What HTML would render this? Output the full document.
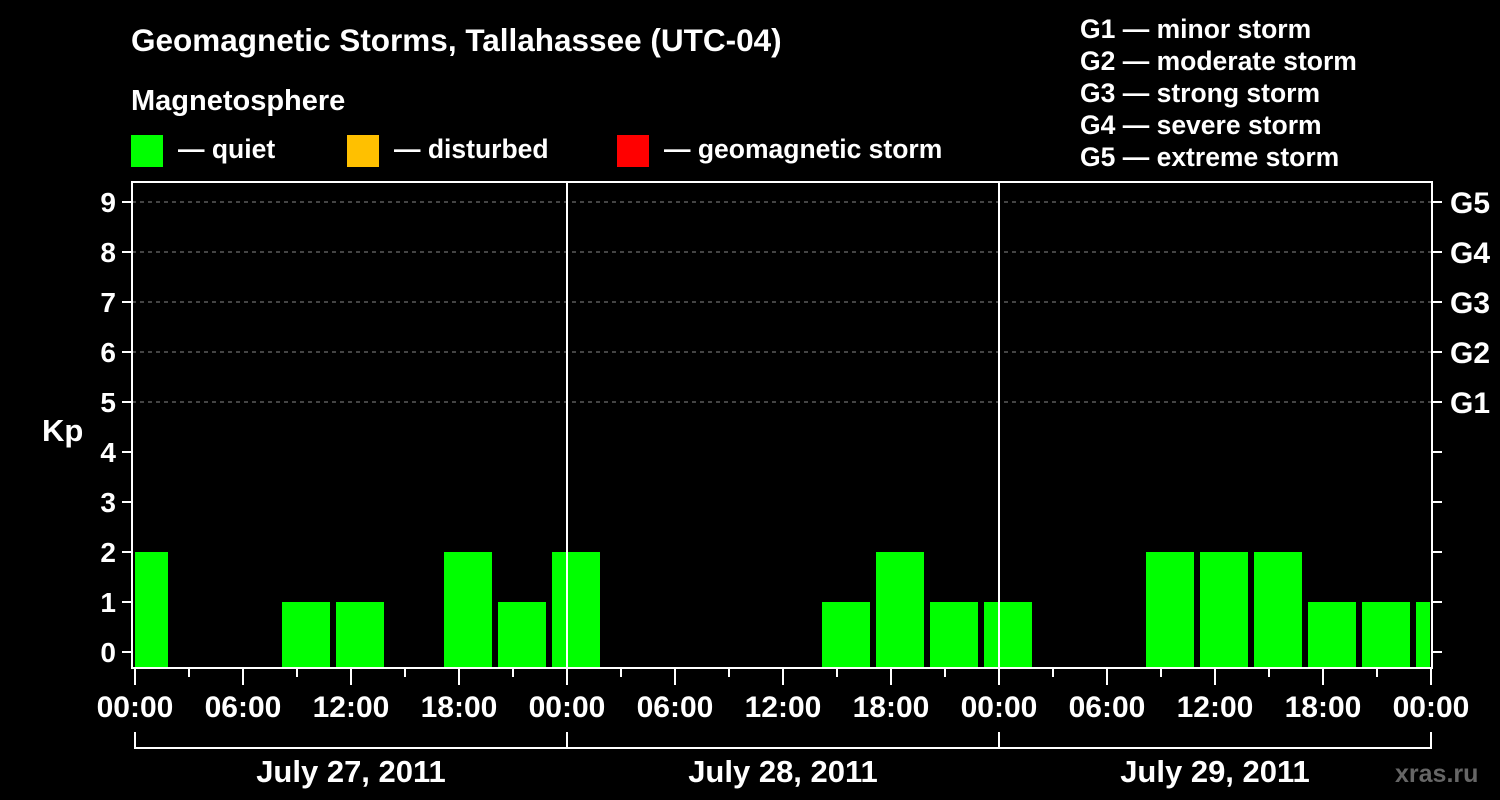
<!DOCTYPE html>
<html><head><meta charset="utf-8"><style>
html,body{margin:0;padding:0;background:#000;}
svg{display:block;font-family:"Liberation Sans",sans-serif;font-weight:bold;}
</style></head><body>
<svg id="chart" width="1500" height="800" viewBox="0 0 1500 800">
<rect width="1500" height="800" fill="#000"/>
<text x="131" y="51" fill="#fff" font-size="31.5">Geomagnetic Storms, Tallahassee (UTC-04)</text>
<text x="131" y="110" fill="#fff" font-size="29">Magnetosphere</text>
<g><rect x="131" y="135" width="32" height="32" fill="#00ff00"/><text x="178" y="158" fill="#fff" font-size="26.5">— quiet</text></g>
<g><rect x="347" y="135" width="32" height="32" fill="#ffc000"/><text x="394" y="158" fill="#fff" font-size="26.5">— disturbed</text></g>
<g><rect x="617" y="135" width="32" height="32" fill="#ff0000"/><text x="664" y="158" fill="#fff" font-size="26.5">— geomagnetic storm</text></g>
<g fill="#fff" font-size="26.5">
<text x="1080" y="38">G1 — minor storm</text>
<text x="1080" y="70">G2 — moderate storm</text>
<text x="1080" y="102">G3 — strong storm</text>
<text x="1080" y="134">G4 — severe storm</text>
<text x="1080" y="166">G5 — extreme storm</text>
</g>
<g id="grid"></g>
<g id="bars"></g>
<g id="axes"></g>
<text x="42" y="441" fill="#fff" font-size="31">Kp</text>
<text x="1395" y="782" fill="#666" font-size="25">xras.ru</text>
</svg>
<script>
const days = ["July 27, 2011","July 28, 2011","July 29, 2011"];
const slotStartHours = -1;
const kpValues = [2,0,0,1,1,0,2,1,2, 0,0,0,0,1,2,1,1, 0,0,2,2,2,1,1,1];
const yTicks = [0,1,2,3,4,5,6,7,8,9];
const gLabels = ["G1","G2","G3","G4","G5"];
const xTickLabels = ["00:00","06:00","12:00","18:00"];

const NS="http://www.w3.org/2000/svg";
const X0=135, PXH=18, Y0=652, PXU=50, LEFT=132, RIGHT=1432, TOP=182, BOT=668;
const xs=h=>X0+h*PXH, ys=v=>Y0-v*PXU;
function mk(tag,attrs,parent){const e=document.createElementNS(NS,tag);for(const k in attrs)e.setAttribute(k,attrs[k]);parent.appendChild(e);return e;}
const grid=document.getElementById('grid'),bars=document.getElementById('bars'),axes=document.getElementById('axes');
kpValues.forEach((v,i)=>{
  if(v<=0)return;
  const h0=slotStartHours+i*3;
  let x1=Math.max(xs(h0)+3,LEFT+3), x2=Math.min(xs(h0+3)-3,RIGHT-2);
  const color=v>=5?"#ff0000":(v>=4?"#ffc000":"#00ff00");
  const r=mk('rect',{x:x1,y:ys(v),width:x2-x1,height:BOT-ys(v),fill:color},bars);
  
  
});
yTicks.forEach(v=>{
  const y=ys(v);
  if(v>=5){const l=mk('line',{x1:LEFT,x2:RIGHT,y1:y,y2:y,stroke:"#888","stroke-dasharray":"4 4","stroke-width":1},grid);
    
    }
  mk('line',{x1:122,x2:LEFT,y1:y,y2:y,stroke:"#fff","stroke-width":2},axes);
  mk('line',{x1:RIGHT,x2:1442,y1:y,y2:y,stroke:"#fff","stroke-width":2},axes);
  const t=mk('text',{x:116,y:y+10,fill:"#fff","font-size":28,"text-anchor":"end"},axes);t.textContent=v;
  
  
  if(v>=5){const g=mk('text',{x:1450,y:y+11,fill:"#fff","font-size":30},axes);g.textContent=gLabels[v-5];
    
    }
});
const fr=mk('rect',{x:LEFT,y:TOP,width:RIGHT-LEFT,height:BOT-TOP,fill:"none",stroke:"#fff","stroke-width":2},axes);


for(let d=0;d<=days.length;d++){
  const xd=xs(d*24);
  if(d>0&&d<days.length){const s=mk('line',{x1:xd,x2:xd,y1:TOP,y2:BOT,stroke:"#fff","stroke-width":2},axes);
    
    }
  mk('line',{x1:xd,x2:xd,y1:732,y2:749,stroke:"#fff","stroke-width":2},axes);
  if(d<days.length){
    mk('line',{x1:xd,x2:xs((d+1)*24),y1:748,y2:748,stroke:"#fff","stroke-width":2},axes);
    const dl=mk('text',{x:xs(d*24+12),y:782,fill:"#fff","font-size":31,"text-anchor":"middle"},axes);dl.textContent=days[d];
    
    
  }
}
for(let h=0;h<=72;h+=3){
  const x=xs(h), major=h%6===0;
  mk('line',{x1:x,x2:x,y1:BOT,y2:major?685:677,stroke:"#fff","stroke-width":2},axes);
  if(major){const t=mk('text',{x:x,y:717,fill:"#fff","font-size":30,"text-anchor":"middle"},axes);
    t.textContent=xTickLabels[(h%24)/6];
    
    }
}
</script>
</body></html>
